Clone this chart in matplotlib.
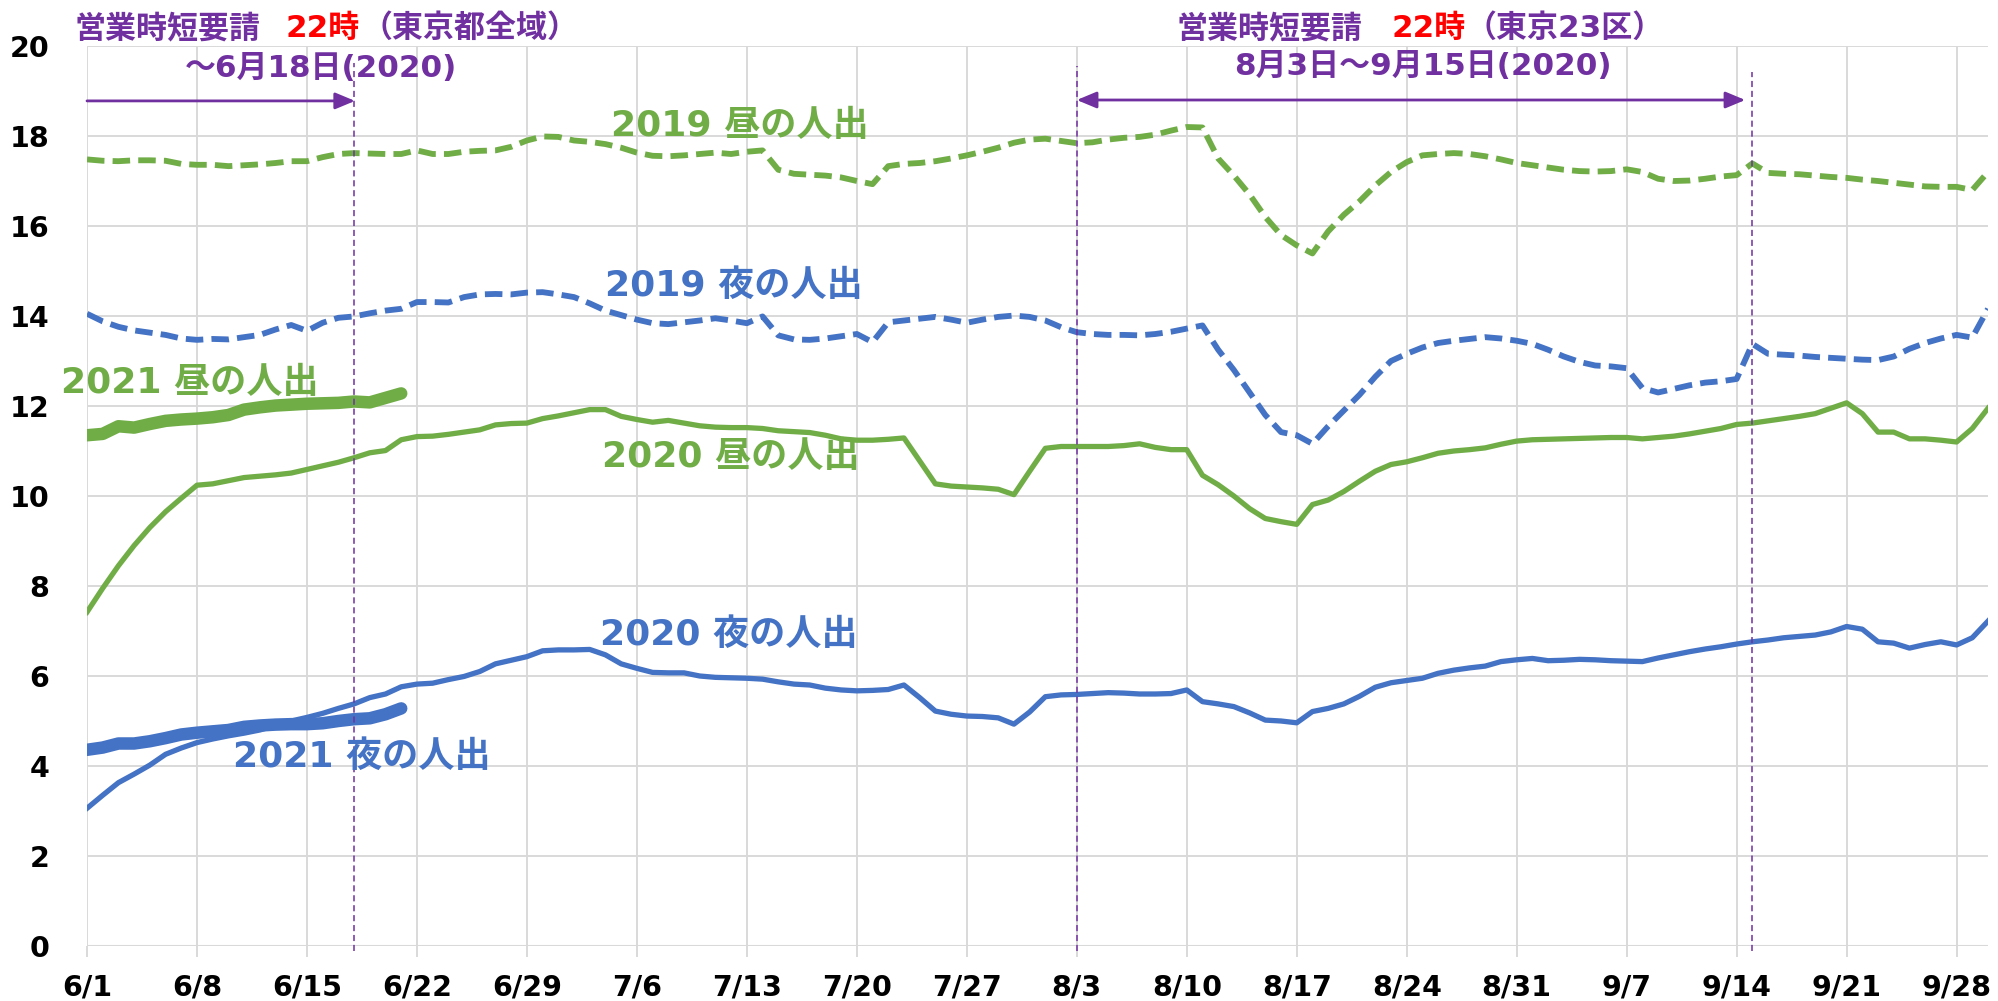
import matplotlib
matplotlib.use('Agg')
import matplotlib.pyplot as plt
import numpy as np

# ---------------- data ----------------
tick_days = list(range(0, 120, 7))
tick_labels = ['6/1', '6/8', '6/15', '6/22', '6/29', '7/6', '7/13', '7/20', '7/27',
               '8/3', '8/10', '8/17', '8/24', '8/31', '9/7', '9/14', '9/21', '9/28']

day_2019_2020 = list(range(122))   # 6/1 .. 9/30
day_2021 = list(range(21))         # 6/1 .. 6/21

noon_2019 = [17.48, 17.45, 17.44, 17.46, 17.46, 17.45, 17.38, 17.36, 17.36, 17.33, 17.35,
             17.37, 17.40, 17.44, 17.44, 17.53, 17.60, 17.62, 17.61, 17.60, 17.60,
             17.68, 17.60, 17.60, 17.65, 17.67, 17.68, 17.76, 17.90, 17.99, 17.98,
             17.90, 17.87, 17.82, 17.74, 17.63, 17.56, 17.55, 17.57, 17.60, 17.63,
             17.60, 17.65, 17.68, 17.25, 17.16, 17.14, 17.12, 17.08, 17.00, 16.93,
             17.33, 17.38, 17.40, 17.44, 17.50, 17.57, 17.65, 17.74, 17.85, 17.92,
             17.94, 17.89, 17.84, 17.86, 17.92, 17.96, 17.98, 18.03, 18.12, 18.20,
             18.19, 17.50, 17.12, 16.70, 16.20, 15.80, 15.57, 15.39, 15.88, 16.25,
             16.55, 16.90, 17.20, 17.42, 17.57, 17.60, 17.62, 17.60, 17.55, 17.48,
             17.40, 17.35, 17.30, 17.25, 17.22, 17.21, 17.22, 17.26, 17.20, 17.05,
             17.00, 17.01, 17.05, 17.10, 17.13, 17.39, 17.18, 17.16, 17.15, 17.12,
             17.09, 17.07, 17.03, 17.00, 16.96, 16.92, 16.88, 16.87, 16.87, 16.80, 17.20]

night_2019 = [14.05, 13.88, 13.76, 13.68, 13.63, 13.58, 13.50, 13.47, 13.49, 13.48, 13.53,
              13.58, 13.70, 13.80, 13.67, 13.85, 13.96, 13.99, 14.06, 14.12, 14.16,
              14.31, 14.31, 14.30, 14.42, 14.48, 14.49, 14.48, 14.52, 14.53, 14.48,
              14.42, 14.28, 14.12, 14.02, 13.92, 13.84, 13.82, 13.86, 13.90, 13.95,
              13.90, 13.84, 13.99, 13.57, 13.48, 13.47, 13.50, 13.55, 13.60, 13.42,
              13.86, 13.90, 13.94, 13.98, 13.92, 13.85, 13.92, 13.98, 14.01, 13.98,
              13.90, 13.75, 13.64, 13.60, 13.58, 13.58, 13.57, 13.60, 13.65, 13.72,
              13.79, 13.25, 12.80, 12.30, 11.80, 11.42, 11.35, 11.16, 11.55, 11.90,
              12.25, 12.65, 13.00, 13.16, 13.30, 13.40, 13.45, 13.49, 13.53, 13.50,
              13.45, 13.38, 13.25, 13.10, 12.98, 12.90, 12.88, 12.84, 12.40, 12.30,
              12.38, 12.46, 12.52, 12.55, 12.60, 13.38, 13.16, 13.14, 13.12, 13.09,
              13.07, 13.05, 13.03, 13.02, 13.10, 13.27, 13.40, 13.50, 13.58, 13.52, 14.16]

noon_2020 = [7.42, 7.95, 8.45, 8.90, 9.30, 9.65, 9.95, 10.24, 10.27, 10.34, 10.41,
             10.44, 10.47, 10.51, 10.59, 10.67, 10.75, 10.85, 10.96, 11.01, 11.25,
             11.32, 11.33, 11.37, 11.42, 11.47, 11.58, 11.61, 11.62, 11.72, 11.78,
             11.85, 11.92, 11.92, 11.77, 11.70, 11.64, 11.68, 11.62, 11.56, 11.53,
             11.52, 11.52, 11.50, 11.45, 11.43, 11.41, 11.35, 11.27, 11.24, 11.24,
             11.26, 11.29, 10.78, 10.27, 10.22, 10.20, 10.18, 10.15, 10.03, 10.55,
             11.06, 11.10, 11.10, 11.10, 11.10, 11.12, 11.16, 11.08, 11.03, 11.03,
             10.46, 10.25, 10.00, 9.72, 9.50, 9.43, 9.37, 9.81, 9.91, 10.10,
             10.33, 10.55, 10.70, 10.76, 10.85, 10.95, 11.00, 11.03, 11.07, 11.15,
             11.22, 11.25, 11.26, 11.27, 11.28, 11.29, 11.30, 11.30, 11.27, 11.30,
             11.33, 11.38, 11.44, 11.50, 11.59, 11.62, 11.67, 11.72, 11.77, 11.83,
             11.95, 12.07, 11.83, 11.42, 11.42, 11.27, 11.27, 11.24, 11.20, 11.50, 11.95]

night_2020 = [3.06, 3.35, 3.63, 3.82, 4.02, 4.26, 4.40, 4.52, 4.60, 4.67, 4.73,
              4.80, 4.90, 5.00, 5.08, 5.17, 5.28, 5.38, 5.52, 5.60, 5.76,
              5.82, 5.84, 5.92, 5.99, 6.10, 6.27, 6.35, 6.43, 6.56, 6.58,
              6.58, 6.59, 6.47, 6.27, 6.17, 6.08, 6.07, 6.07, 6.00, 5.97,
              5.96, 5.95, 5.93, 5.87, 5.82, 5.80, 5.73, 5.69, 5.67, 5.68,
              5.70, 5.80, 5.52, 5.22, 5.15, 5.11, 5.10, 5.07, 4.93, 5.20,
              5.54, 5.58, 5.59, 5.61, 5.63, 5.62, 5.60, 5.60, 5.61, 5.69,
              5.43, 5.38, 5.32, 5.18, 5.02, 5.00, 4.96, 5.21, 5.28, 5.38,
              5.55, 5.75, 5.85, 5.90, 5.95, 6.06, 6.13, 6.18, 6.22, 6.32,
              6.36, 6.39, 6.34, 6.35, 6.37, 6.36, 6.34, 6.33, 6.32, 6.40,
              6.47, 6.54, 6.60, 6.65, 6.71, 6.76, 6.80, 6.85, 6.88, 6.91,
              6.98, 7.10, 7.04, 6.76, 6.73, 6.62, 6.70, 6.76, 6.69, 6.85, 7.22]

noon_2021 = [11.35, 11.38, 11.55, 11.52, 11.60, 11.67, 11.70, 11.72, 11.75, 11.80, 11.92,
             11.97, 12.01, 12.03, 12.05, 12.06, 12.07, 12.10, 12.08, 12.18, 12.28]
night_2021 = [4.36, 4.41, 4.50, 4.50, 4.55, 4.62, 4.70, 4.74, 4.77, 4.80, 4.87,
              4.90, 4.92, 4.93, 4.93, 4.95, 5.00, 5.04, 5.06, 5.15, 5.28]

# event days (days after 6/1)
end_first = 17      # 6/18
start_second = 63   # 8/3
end_second = 106    # 9/15

# ---------------- style ----------------
GREEN = '#70AD47'
BLUE = '#4472C4'
PURPLE = '#7030A0'
RED = '#FF0000'
GRID = '#D9D9D9'
FAM = ['DejaVu Sans', 'Noto Sans CJK JP']

W, H = 1999, 1001
fig = plt.figure(figsize=(W / 100, H / 100), dpi=100)
ax = fig.add_axes([87 / W, 1 - 946 / H, (1988 - 87) / W, 900 / H])

ax.set_xlim(0, 121)
ax.set_ylim(0, 20)
ax.set_axisbelow(True)
ax.grid(True, color=GRID, lw=1.4)
ax.axhline(0, color=GRID, lw=2.2, zorder=0.5)
for s in ax.spines.values():
    s.set_visible(False)

ax.set_xticks(tick_days)
ax.set_xticklabels(tick_labels)
ax.set_yticks(range(0, 21, 2))
ax.tick_params(axis='x', length=8, width=1.4, color=GRID, pad=12)
ax.tick_params(axis='y', length=0, pad=27)
for lab in ax.get_xticklabels() + ax.get_yticklabels():
    lab.set_fontfamily(FAM)
    lab.set_fontweight('bold')
    lab.set_fontsize(20.5)

# lines
ax.plot(day_2019_2020, noon_2019, color=GREEN, lw=4.2, dashes=(3.0, 1.4), zorder=3)
ax.plot(day_2019_2020, night_2019, color=BLUE, lw=4.2, dashes=(3.0, 1.4), zorder=3)
ax.plot(day_2019_2020, noon_2020, color=GREEN, lw=3.8, solid_joinstyle='round', zorder=3)
ax.plot(day_2019_2020, night_2020, color=BLUE, lw=3.8, solid_joinstyle='round', zorder=3)
ax.plot(day_2021, noon_2021, color=GREEN, lw=9, solid_capstyle='round',
        solid_joinstyle='round', zorder=4)
ax.plot(day_2021, night_2021, color=BLUE, lw=9, solid_capstyle='round',
        solid_joinstyle='round', zorder=4)

# vertical event lines
for d, top in [(end_first, 19.62), (start_second, 19.55), (end_second, 19.42)]:
    ax.plot([d, d], [-0.12, top], color=PURPLE, lw=1.1, dashes=(4, 2.5),
            clip_on=False, zorder=5)

# arrows
ax.annotate('', xy=(end_first + 0.06, 18.78), xytext=(0, 18.78),
            arrowprops=dict(arrowstyle='-|>,head_length=0.6,head_width=0.25',
                            color=PURPLE, lw=2.0, mutation_scale=20,
                            shrinkA=0, shrinkB=0), annotation_clip=False, zorder=6)
ax.annotate('', xy=(end_second - 0.45, 18.8), xytext=(start_second, 18.8),
            arrowprops=dict(arrowstyle='<|-|>,head_length=0.6,head_width=0.25',
                            color=PURPLE, lw=2.0, mutation_scale=20,
                            shrinkA=0, shrinkB=0), annotation_clip=False, zorder=6)


def px(x, y):
    return x / W, 1 - y / H


HS = 22.3
kw = dict(fontfamily=FAM, fontweight='bold', fontsize=HS, va='baseline', ha='left')
fig.text(*px(75, 37), '営業時短要請', color=PURPLE, **kw)
fig.text(*px(286, 37), '22時', color=RED, **kw)
fig.text(*px(361, 37), '（東京都全域）', color=PURPLE, **kw)
fig.text(*px(1177, 37), '営業時短要請', color=PURPLE, **kw)
fig.text(*px(1391, 37), '22時', color=RED, **kw)
fig.text(*px(1466, 37), '（東京23区）', color=PURPLE, **kw)
kw2 = dict(kw)
kw2['ha'] = 'center'
fig.text(*px(321, 77), '～6月18日(2020)', color=PURPLE, **kw2)
fig.text(*px(1423, 75), '8月3日～9月15日(2020)', color=PURPLE, **kw2)

# series labels (pixel positions: left ink x, baseline y)
LS = 26
lkw = dict(fontfamily=FAM, fontweight='bold', fontsize=LS, va='baseline', ha='left')
fig.text(*px(611, 136), '2019 昼の人出', color=GREEN, **lkw)
fig.text(*px(605, 296), '2019 夜の人出', color=BLUE, **lkw)
fig.text(*px(602, 467), '2020 昼の人出', color=GREEN, **lkw)
fig.text(*px(61, 393), '2021 昼の人出', color=GREEN, **lkw)
fig.text(*px(233, 767), '2021 夜の人出', color=BLUE, **lkw)
fig.text(*px(600, 645), '2020 夜の人出', color=BLUE, **lkw)

fig.savefig('out.png', dpi=100)
